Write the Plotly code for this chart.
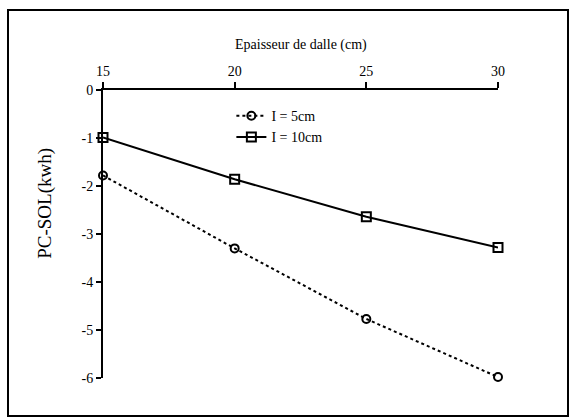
import plotly.graph_objects as go

epaisseur = [15, 20, 25, 30]
pc_sol_5cm = [-1.78, -3.30, -4.77, -5.98]
pc_sol_10cm = [-0.99, -1.86, -2.64, -3.28]
x_ticks = [15, 20, 25, 30]
y_ticks = [0, -1, -2, -3, -4, -5, -6]
y_ticktext = ["0", "-1", "-2", "-3", "-4", "-5", "-6"]

FONT = "Liberation Serif"

fig = go.Figure()
fig.add_trace(go.Scatter(
    x=epaisseur, y=pc_sol_5cm, mode="lines+markers", name="I = 5cm",
    line=dict(color="black", width=2, dash="dot"),
    marker=dict(symbol="circle-open", size=8, color="black", line=dict(width=2)),
    cliponaxis=False,
))
fig.add_trace(go.Scatter(
    x=epaisseur, y=pc_sol_10cm, mode="lines+markers", name="I = 10cm",
    line=dict(color="black", width=2),
    marker=dict(symbol="square-open", size=9, color="black", line=dict(width=2)),
    cliponaxis=False,
))

fig.update_layout(
    width=571, height=418,
    margin=dict(l=103, r=73, t=90, b=40),
    paper_bgcolor="white", plot_bgcolor="white",
    font=dict(family=FONT, color="black", size=14),
    showlegend=True,
    legend=dict(x=0.325, y=0.965, xanchor="left", yanchor="top",
                bgcolor="rgba(0,0,0,0)", font=dict(size=14, family=FONT),
                tracegroupgap=0),
    xaxis=dict(side="top", range=[15, 30], tickvals=x_ticks,
               showgrid=False, zeroline=False, showline=True,
               linecolor="black", linewidth=2, ticks="outside",
               ticklen=6, tickwidth=2, tickcolor="black",
               tickfont=dict(size=14, family=FONT)),
    yaxis=dict(range=[-6, 0], tickvals=y_ticks, ticktext=y_ticktext,
               showgrid=False, zeroline=False, showline=True,
               linecolor="black", linewidth=2, ticks="outside",
               ticklen=5, tickwidth=2, tickcolor="black",
               tickfont=dict(size=14, family=FONT)),
    annotations=[
        dict(text="Epaisseur de dalle (cm)", xref="paper", yref="paper",
             x=0.5, y=1.156, showarrow=False, font=dict(size=14, family=FONT),
             xanchor="center", yanchor="middle"),
        dict(text="PC-SOL(kwh)", xref="paper", yref="paper",
             x=-0.147, y=0.608, showarrow=False, textangle=-90,
             font=dict(size=19, family=FONT), xanchor="center", yanchor="middle"),
    ],
    shapes=[dict(type="rect", xref="paper", yref="paper",
                 x0=(8 - 103) / 395, x1=(568 - 103) / 395,
                 y0=(378 - 416) / 288, y1=(378 - 10) / 288,
                 line=dict(color="black", width=2))],
)

fig.write_html("out.html", config={"displayModeBar": False},
               post_script="document.body.style.margin='0';document.body.style.padding='0';")
